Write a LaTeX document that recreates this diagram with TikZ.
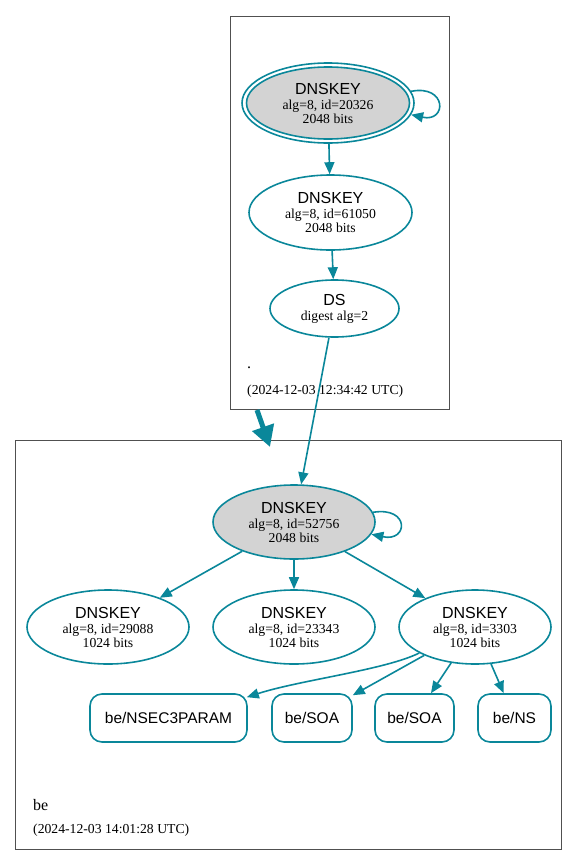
\documentclass[tikz,border=0pt]{standalone}
\usepackage{fontspec}
\setmainfont{Liberation Serif}
\setsansfont{Liberation Sans}
\usetikzlibrary{shapes.geometric,arrows.meta}
\definecolor{sec}{HTML}{0A879A}
\definecolor{kfill}{HTML}{D3D3D3}
\definecolor{clus}{HTML}{505050}
\newcommand\keytext[2]{{\fontsize{16}{16}\selectfont\sffamily DNSKEY}\\[1pt]alg=8, id=#1\\#2 bits}
\begin{document}
\begin{tikzpicture}[x=1pt,y=-1pt,
  key/.style={ellipse,draw=sec,line width=1.6pt,inner sep=0pt,align=center,
    font=\fontsize{13.7}{14}\selectfont,minimum width=162pt,minimum height=74pt},
  rr/.style={rectangle,draw=sec,line width=1.6pt,rounded corners=12pt,inner sep=0pt,
    minimum height=48pt,font=\fontsize{15.5}{16}\selectfont\sffamily},
  edge/.style={draw=sec,line width=1.6pt,-{Triangle[length=12pt,width=10pt]}},
  cluster/.style={rectangle,draw=clus,line width=0.8pt,inner sep=0pt,anchor=north west},
  lbl/.style={anchor=west,inner sep=0pt}
]
\useasboundingbox (0,0) rectangle (577,865);

% clusters
\node[cluster,minimum width=219pt,minimum height=393pt] (rootc) at (230,16) {};
\node[cluster,minimum width=546pt,minimum height=409pt] (bec) at (15,440) {};

% root zone
\node[key,minimum width=172pt,minimum height=80pt] (ksk) at (328,103) {};
\node[key,fill=kfill,minimum width=163pt,minimum height=72pt] (kskin) at (328,103) {\keytext{20326}{2048}};
\node[key,minimum width=163pt,minimum height=75pt] (k61050) at (330.5,212.5) {\keytext{61050}{2048}};
\node[key,minimum width=129pt,minimum height=57pt] (ds) at (334.5,308.5)
  {{\fontsize{16}{16}\selectfont\sffamily DS}\\[1pt]digest alg=2};
\node[lbl,font=\fontsize{16}{16}\selectfont] (rootdot) at (247,368) {.};
\node[lbl,font=\fontsize{13.7}{14}\selectfont] (rootdate) at (247,391) {(2024-12-03 12:34:42 UTC)};

% be zone
\node[key,fill=kfill] (k52756) at (294,522) {\keytext{52756}{2048}};
\node[key] (k29088) at (108,627) {\keytext{29088}{1024}};
\node[key] (k23343) at (294,627) {\keytext{23343}{1024}};
\node[key,minimum width=152pt] (k3303) at (475,627) {\keytext{3303}{1024}};

\node[rr,minimum width=157pt] (nsec) at (168.5,718) {be/NSEC3PARAM};
\node[rr,minimum width=80pt] (soa1) at (312,718) {be/SOA};
\node[rr,minimum width=79pt] (soa2) at (414.5,718) {be/SOA};
\node[rr,minimum width=73pt] (ns) at (514.5,718) {be/NS};

\node[lbl,font=\fontsize{16}{16}\selectfont] (bename) at (33,805) {be};
\node[lbl,font=\fontsize{13.7}{14}\selectfont] (bedate) at (33,830) {(2024-12-03 14:01:28 UTC)};

% edges
\draw[edge] (ksk.8) .. controls +(36,-7) and +(36,8) .. (ksk.-8);
\draw[edge] (ksk) -- (k61050);
\draw[edge] (k61050) -- (ds);
\draw[edge] (ds) -- (k52756);
\draw[edge] (k52756.7) .. controls +(37,-6) and +(37,8) .. (k52756.-9);
\draw[edge] (k52756) -- (k29088);
\draw[edge] (k52756) -- (k23343);
\draw[edge] (k52756) -- (k3303);
\draw[edge] (k3303.-155) .. controls (385,670) and (300,680) .. ([xshift=-1pt,yshift=-4pt]nsec.north east);
\draw[edge] (k3303) -- (soa1);
\draw[edge] (k3303) -- (soa2);
\draw[edge] (k3303) -- (ns);

% delegation arrow
\coordinate (delA) at (257,410);
\coordinate (delB) at (270,447);
\draw[sec,line width=5pt,-{Triangle[length=21pt,width=22pt]}] (delA) -- (delB);
\end{tikzpicture}
\end{document}
